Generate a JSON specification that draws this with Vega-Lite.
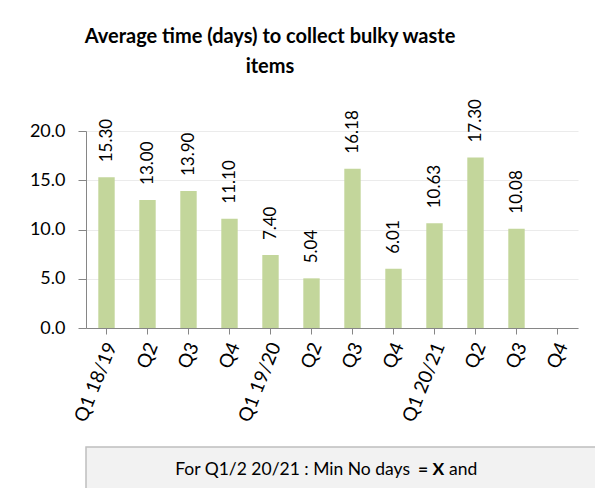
{
  "$schema": "https://vega.github.io/schema/vega-lite/v6.json",
  "background": "white",
  "padding": {"left": 29, "top": 27, "right": 0, "bottom": 0},
  "config": {
    "font": "Lato",
    "view": {"stroke": null}
  },
  "align": "none",
  "spacing": 21,
  "vconcat": [
    {
      "width": 492,
      "height": 197,
      "title": {
        "text": ["Average time (days) to collect bulky waste", "items"],
        "fontSize": 20,
        "fontWeight": "bold",
        "color": "#000000",
        "lineHeight": 30,
        "anchor": "middle",
        "frame": "group",
        "dx": -62,
        "offset": 22
      },
      "data": {
        "values": [
          {"period": "Q1 18/19", "days": 15.30},
          {"period": "Q2 18/19", "days": 13.00},
          {"period": "Q3 18/19", "days": 13.90},
          {"period": "Q4 18/19", "days": 11.10},
          {"period": "Q1 19/20", "days": 7.40},
          {"period": "Q2 19/20", "days": 5.04},
          {"period": "Q3 19/20", "days": 16.18},
          {"period": "Q4 19/20", "days": 6.01},
          {"period": "Q1 20/21", "days": 10.63},
          {"period": "Q2 20/21", "days": 17.30},
          {"period": "Q3 20/21", "days": 10.08}
        ]
      },
      "encoding": {
        "x": {
          "field": "period",
          "type": "nominal",
          "sort": null,
          "scale": {
            "domain": ["Q1 18/19", "Q2 18/19", "Q3 18/19", "Q4 18/19", "Q1 19/20", "Q2 19/20", "Q3 19/20", "Q4 19/20", "Q1 20/21", "Q2 20/21", "Q3 20/21", "Q4 20/21"],
            "paddingInner": 0.6,
            "paddingOuter": 0.3
          },
          "axis": {
            "title": null,
            "labelAngle": -68,
            "labelAlign": "right",
            "labelBaseline": "middle",
            "labelFontSize": 19,
            "labelColor": "#000000",
            "labelPadding": 9,
            "labelOffset": 5,
            "labelExpr": "indexof(datum.value, 'Q1') == 0 ? datum.value : slice(datum.value, 0, 2)",
            "tickSize": 6,
            "tickColor": "#868686",
            "domainColor": "#868686",
            "grid": false
          }
        },
        "y": {
          "field": "days",
          "type": "quantitative",
          "scale": {"domain": [0, 20]},
          "axis": {
            "title": null,
            "tickCount": 4,
            "format": ".1f",
            "labelFontSize": 18,
            "labelColor": "#000000",
            "labelPadding": 13,
            "tickSize": 8,
            "tickColor": "#868686",
            "domainColor": "#868686",
            "gridColor": "#EBEBEB"
          }
        }
      },
      "layer": [
        {"mark": {"type": "bar", "color": "#C3D69B"}},
        {
          "mark": {
            "type": "text",
            "angle": -90,
            "align": "left",
            "baseline": "middle",
            "dx": 15,
            "fontSize": 17,
            "color": "#000000"
          },
          "encoding": {"text": {"field": "days", "type": "quantitative", "format": ".2f"}}
        }
      ]
    },
    {
      "width": 578,
      "height": 45,
      "view": {"fill": "#F2F2F2", "stroke": "#BFBFBF", "strokeWidth": 1.5},
      "data": {"values": [{"a": "For Q1/2 20/21 :  Min No days", "b": "= X", "c": "and"}]},
      "layer": [
        {
          "mark": {"type": "text", "align": "right", "baseline": "middle", "dx": 35, "fontSize": 17.5, "color": "#000000"},
          "encoding": {"text": {"field": "a", "type": "nominal"}}
        },
        {
          "mark": {"type": "text", "align": "left", "baseline": "middle", "dx": 43, "fontSize": 17.5, "fontWeight": "bold", "color": "#000000"},
          "encoding": {"text": {"field": "b", "type": "nominal"}}
        },
        {
          "mark": {"type": "text", "align": "left", "baseline": "middle", "dx": 74, "fontSize": 17.5, "color": "#000000"},
          "encoding": {"text": {"field": "c", "type": "nominal"}}
        }
      ]
    }
  ]
}
